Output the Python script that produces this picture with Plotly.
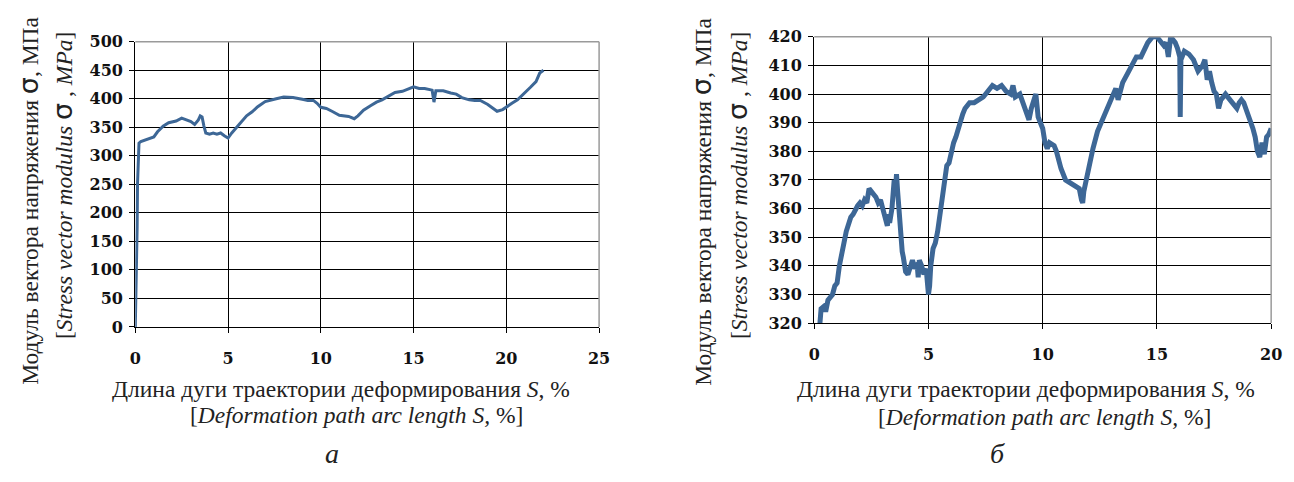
import plotly.graph_objects as go

# ---- data: panel a ----
a_s = [0, 0.03, 0.05, 0.08, 0.1, 0.12, 0.15, 0.2, 0.3, 0.5, 0.8, 1.0, 1.2, 1.5, 1.8, 2.0, 2.2, 2.5, 2.8, 3.0,
       3.2, 3.4, 3.5, 3.6, 3.7, 3.8, 4.0, 4.2, 4.4, 4.6, 4.8, 5.0, 5.2, 5.5, 5.8, 6.0, 6.3, 6.6, 7.0, 7.3,
       7.6, 8.0, 8.5, 9.0, 9.3, 9.6, 9.8, 10.0, 10.3, 10.6, 11.0, 11.5, 11.8, 12.0, 12.3, 12.7, 13.0, 13.3,
       13.6, 14.0, 14.4, 14.8, 15.0, 15.3, 15.6, 16.0, 16.1, 16.2, 16.6, 17.0, 17.3, 17.6, 18.0, 18.3, 18.6,
       19.0, 19.3, 19.5, 19.8, 20.0, 20.3, 20.6, 21.0, 21.3, 21.6, 21.8, 22.0]
a_sigma = [0, 40, 100, 150, 175, 250, 300, 322, 325, 327, 330, 333, 342, 352, 358, 360, 361, 366, 362, 360,
           355, 363, 370, 368, 352, 340, 338, 340, 338, 340, 335, 331, 340, 352, 362, 370, 377, 386, 395, 398,
           400, 403, 402, 399, 397, 397, 392, 385, 383, 378, 371, 369, 365, 370, 380, 388, 394, 398,
           404, 411, 413, 418, 421, 418, 418, 415, 394, 414, 414, 410, 408, 402, 398, 397, 397,
           390, 383, 378, 381, 386, 392, 398, 410, 420, 430, 445, 450]

# ---- data: panel b ----
b_s = [0.25, 0.3, 0.45, 0.5, 0.6, 0.8, 0.9, 1.0, 1.1, 1.2, 1.3, 1.4, 1.5, 1.6, 1.7, 1.8, 1.9, 2.0, 2.1, 2.2,
       2.3, 2.4, 2.5, 2.6, 2.7, 2.8, 2.9, 3.0, 3.1, 3.2, 3.25, 3.3, 3.4, 3.45, 3.5, 3.55, 3.6, 3.65, 3.7, 3.75,
       3.8, 3.85, 3.9, 4.0, 4.1, 4.2, 4.3, 4.4, 4.5, 4.55, 4.6, 4.7, 4.8, 4.9, 4.95, 5.0, 5.05, 5.1, 5.2, 5.3,
       5.4, 5.5, 5.6, 5.7, 5.8, 5.9, 6.0, 6.1, 6.2, 6.3, 6.4, 6.5, 6.6, 6.8, 7.0, 7.2, 7.4, 7.6, 7.8, 8.0,
       8.2, 8.4, 8.6, 8.7, 8.8, 9.0, 9.2, 9.3, 9.4, 9.5, 9.6, 9.7, 9.75, 9.8, 9.9, 10.0, 10.1, 10.2, 10.3, 10.5,
       10.6, 10.8, 11.0, 11.2, 11.4, 11.6, 11.7, 11.75, 11.8, 11.9, 12.0, 12.2, 12.4, 12.6, 12.8, 13.0, 13.2, 13.3, 13.5, 13.7,
       13.9, 14.1, 14.3, 14.4, 14.6, 14.8, 15.0, 15.1, 15.3, 15.4, 15.5, 15.6, 15.8, 15.9, 16.0, 16.02, 16.05, 16.2, 16.4, 16.6,
       16.8, 17.0, 17.1, 17.2, 17.3, 17.4, 17.5, 17.6, 17.7, 17.8, 18.0, 18.2, 18.4, 18.5, 18.6, 18.7, 18.8, 19.0, 19.2, 19.3,
       19.4, 19.5, 19.6, 19.7, 19.8, 19.9, 20.0]
b_sigma = [320, 325, 326, 324, 328, 330, 333, 334, 340, 345, 348, 352, 355, 357, 358, 360, 361, 362, 361, 363,
           362, 367, 366, 365, 364, 362, 363, 360, 357, 354, 358, 355, 360, 368, 370, 365, 372, 366, 360, 355,
           350, 345, 343, 338, 337, 340, 342, 339, 341, 336, 342, 340, 337, 339, 335, 330, 333, 340, 346, 348,
           352, 358, 365, 372, 375, 376, 380, 383, 385, 388, 391, 393, 395, 397, 397, 398, 399, 401, 403, 402,
           403, 401, 400, 403, 399, 400, 396, 394, 391, 395, 398, 400, 396, 392, 390, 388, 383, 381, 383, 382,
           380, 374, 370, 369, 368, 367, 363, 362, 366, 370, 375, 381, 387, 391, 395, 399, 402, 398, 404, 407,
           410, 413, 413, 415, 418, 420, 420, 419, 417, 418, 413, 420, 418, 416, 413, 392, 412, 415, 414, 412,
           408, 410, 412, 405, 408, 404, 401, 400, 395, 398, 400, 398, 396, 395, 397, 398, 397, 393, 388, 385,
           380, 378, 383, 379, 385, 386, 388]

a_xticks = [0, 5, 10, 15, 20, 25]
a_yticks = [0, 50, 100, 150, 200, 250, 300, 350, 400, 450, 500]
b_xticks = [0, 5, 10, 15, 20]
b_yticks = [320, 330, 340, 350, 360, 370, 380, 390, 400, 410, 420]

W, H = 1294, 482
LINE = "#3d6796"
SERIF = "Times New Roman, Liberation Serif, Tinos, DejaVu Serif, serif"
TICKSERIF = "DejaVu Serif, Liberation Serif, serif"

fig = go.Figure()
fig.add_trace(go.Scatter(x=a_s, y=a_sigma, mode="lines", line=dict(color=LINE, width=3),
                         xaxis="x", yaxis="y", showlegend=False))
fig.add_trace(go.Scatter(x=b_s, y=b_sigma, mode="lines", line=dict(color=LINE, width=5),
                         xaxis="x2", yaxis="y2", showlegend=False))

def px_x(v):
    return v / W

def px_y(v):
    return 1 - v / H

tickfont = dict(family=TICKSERIF, size=16, color="#111111", weight="bold")
common_x = dict(showgrid=True, gridcolor="black", gridwidth=1.3, showline=True, linecolor="black",
                linewidth=1.3, ticks="outside", ticklen=5, tickcolor="black", tickwidth=1.3,
                tickfont=tickfont, zeroline=False, fixedrange=True, ticklabelstandoff=12)
common_y = dict(common_x)
common_y["ticklabelstandoff"] = 3

fig.update_layout(
    width=W, height=H, margin=dict(l=0, r=0, t=0, b=0),
    paper_bgcolor="white", plot_bgcolor="white",
    xaxis=dict(common_x, domain=[px_x(131), px_x(601)], range=[0, 25], tickvals=a_xticks, anchor="y"),
    yaxis=dict(common_y, domain=[px_y(331), px_y(34)], range=[0, 500], tickvals=a_yticks, anchor="x"),
    xaxis2=dict(common_x, domain=[px_x(819), px_x(1282)], range=[0, 20], tickvals=b_xticks, anchor="y2"),
    yaxis2=dict(common_y, domain=[px_y(327), px_y(29)], range=[320, 420], tickvals=b_yticks, anchor="x2"),
)

# grey top/right borders
for xr, yr in (("x", "y"), ("x2", "y2")):
    fig.add_shape(type="line", xref=f"{xr} domain", yref=f"{yr} domain", x0=0, x1=1, y0=1, y1=1,
                  line=dict(color="#9a9a9a", width=1.5), layer="above")
    fig.add_shape(type="line", xref=f"{xr} domain", yref=f"{yr} domain", x0=1, x1=1, y0=0, y1=1,
                  line=dict(color="#9a9a9a", width=1.5), layer="above")

tfont = dict(family=SERIF, size=23.5, color="#222222")
sig = "<span style='font-family:DejaVu Sans;font-size:27px'>σ</span>"
ytitle1 = f"Модуль вектора напряжения {sig}, МПа"
ytitle2 = f"[<i>Stress vector modulus</i> {sig} , <i>MPa</i>]"
xtitle1 = "Длина дуги траектории деформирования <i>S</i>, %"
xtitle2 = "[<i>Deformation path arc length S,</i> %]"

def ann(text, x, y, angle=0, font=tfont):
    fig.add_annotation(text=text, xref="paper", yref="paper", x=px_x(x), y=px_y(y),
                       xanchor="center", yanchor="middle", showarrow=False, textangle=angle, font=font)

ann(ytitle1, 22, 200, -90)
ann(ytitle2, 57, 184, -90)
ann(ytitle1, 704, 201, -90)
ann(ytitle2, 741, 184, -90)
ann(xtitle1, 339, 396)
ann(xtitle2, 355, 423)
ann(xtitle1, 1034, 396)
ann(xtitle2, 1052, 425)
lfont = dict(family=SERIF, size=28, color="#222222")
ann("<i>а</i>", 330, 463, 0, lfont)
ann("<i>б</i>", 1005, 463, 0, lfont)

fig.write_html("out.html")
